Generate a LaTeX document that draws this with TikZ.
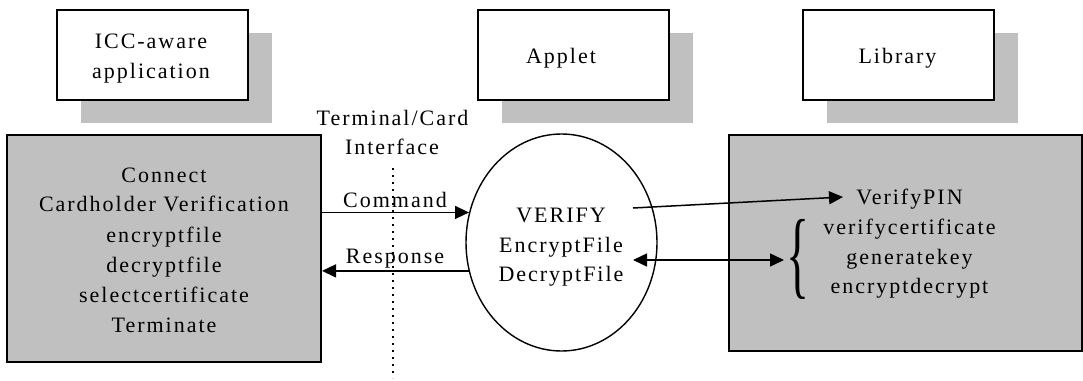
\documentclass[tikz,border=0pt]{standalone}
\usepackage{graphicx}
\usepackage{fontspec}
\setmainfont{Liberation Serif}[LetterSpace=9]
\newfontfamily\plainserif{Liberation Serif}
\usetikzlibrary{shapes.geometric,arrows.meta,shadows}
\definecolor{boxgray}{HTML}{C0C0C0}
\tikzset{
  lbl/.style={font=\fontsize{22}{30}\selectfont, inner sep=0pt, anchor=base},
  topbox/.style={draw, line width=2pt, fill=white, minimum width=191pt, minimum height=90pt, inner sep=0pt,
    drop shadow={shadow xshift=24pt, shadow yshift=-23pt, fill=boxgray, opacity=1}},
  graybox/.style={draw, line width=2pt, fill=boxgray, inner sep=0pt},
  cardshape/.style={draw, ellipse, line width=1.4pt, minimum width=191pt, minimum height=217pt, inner sep=0pt},
  arr/.style={line width=1.5pt, -{Triangle[length=14pt,width=13pt]}},
  darr/.style={line width=1.5pt, {Triangle[length=14pt,width=13pt]}-{Triangle[length=14pt,width=13pt]}},
  sep/.style={line width=1.7pt, dash pattern=on 2pt off 5pt},
}
\begin{document}
\begin{tikzpicture}[x=1pt, y=-1pt]
\useasboundingbox (0,0) rectangle (1083,380);

% top boxes with shadows
\node[topbox] (icc) at (152,54.5) {};
\node[topbox] (applet) at (573,54.5) {};
\node[topbox] (library) at (898.5,54.5) {};
\node[lbl] (icc1) at (151,48) {ICC-aware};
\node[lbl] (icc2) at (151,78) {application};
\node[lbl] (appt) at (561,63) {Applet};
\node[lbl] (libt) at (897.5,63) {Library};

% main boxes
\node[graybox, minimum width=314pt, minimum height=227pt] (term) at (164,248.5) {};
\node[graybox, minimum width=353pt, minimum height=216pt] (lib) at (905.5,243) {};
\node[cardshape] (card) at (561.5,242.5) {};

% terminal functions
\foreach \t/\y [count=\i] in {Connect/182, Cardholder Verification/211.5, encryptfile/242, decryptfile/272, selectcertificate/302, Terminate/332}
  \node[lbl] (tf\i) at (164,\y) {\t};

% card functions
\foreach \t/\y [count=\i] in {VERIFY/222, EncryptFile/252, DecryptFile/281}
  \node[lbl] (cf\i) at (561,\y) {\t};

% library functions
\foreach \t/\y [count=\i] in {VerifyPIN/204, verifycertificate/234, generatekey/264, encryptdecrypt/293}
  \node[lbl] (lf\i) at (909.5,\y) {\t};

\node[inner sep=0pt] (brace) at (797.5,259.5) {\resizebox*{23pt}{80pt}{\plainserif\{}};

% interface
\node[lbl] (if1) at (392.5,125) {Terminal/Card};
\node[lbl] (if2) at (392,154) {Interface};
\coordinate (septop) at (393,168);
\coordinate (sepbot) at (393,378);
\draw[sep] (septop) -- (sepbot);

\node[lbl] (cmd) at (395,207) {Command};
\node[lbl] (rsp) at (395,263) {Response};

% connectors
\draw[arr] (term.east |- card.162.8) -- (card.162.8);
\draw[arr] (card.197.2) -- (term.east |- card.197.2);

\coordinate (vstart) at (633,208);
\coordinate (vpin) at (843,197);
\draw[arr] (vstart) -- (vpin);

\coordinate (dleft) at (633,260);
\coordinate (dright) at (784,260);
\draw[darr] (dleft) -- (dright);
\end{tikzpicture}
\end{document}
